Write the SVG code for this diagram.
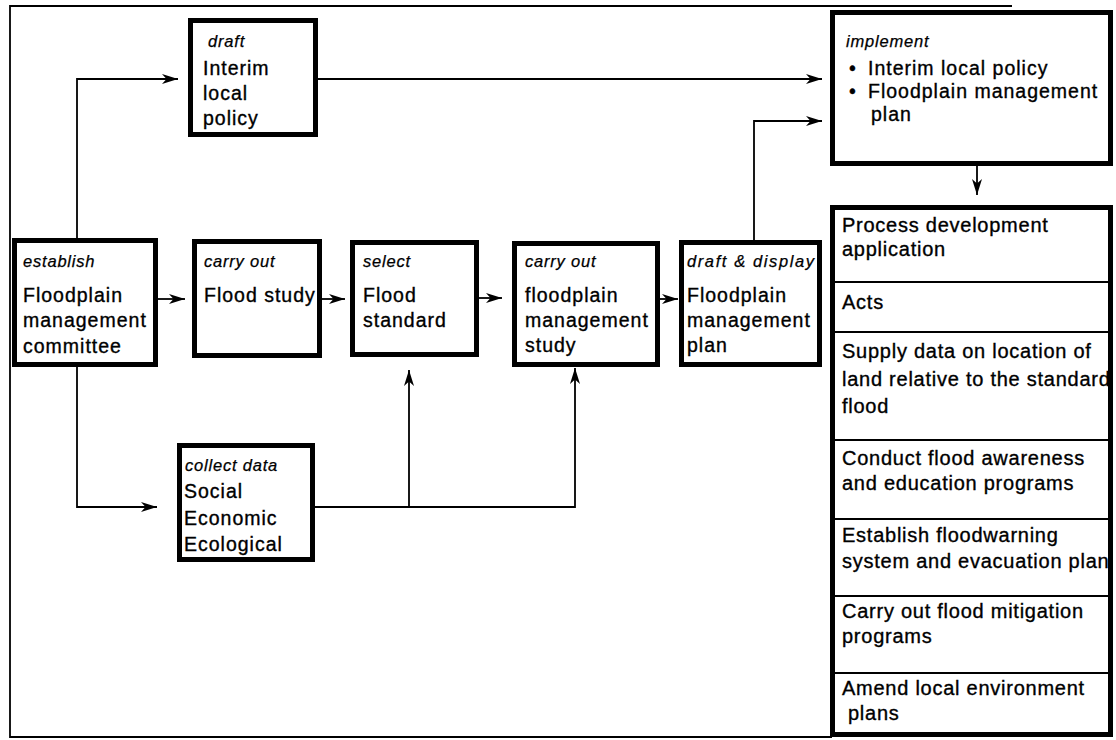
<svg xmlns="http://www.w3.org/2000/svg" width="1116" height="740" viewBox="0 0 1116 740">
  <defs>
    <marker id="arrow" markerUnits="userSpaceOnUse" markerWidth="18" markerHeight="12" refX="16" refY="6" orient="auto">
      <path d="M0,1 L16,6 L0,11 L4.5,6 z" fill="#000"/>
    </marker>
    <style>
      .frame { fill: none; stroke: #000; stroke-width: 1.8; }
      .box { fill: #fff; stroke: #000; stroke-width: 5; }
      .div { stroke: #000; stroke-width: 1.8; }
      .conn { fill: none; stroke: #000; stroke-width: 1.8; }
      .conn.arr { marker-end: url(#arrow); }
      text { font-family: "Liberation Sans", Arial, sans-serif; fill: #000; stroke: #000; stroke-width: 0.35px; }
      .lbl { font-size: 16.5px; font-style: italic; letter-spacing: 0.8px; stroke-width: 0.25px; }
      .txt { font-size: 19.5px; letter-spacing: 1px; }
      .row { font-size: 20px; letter-spacing: 0.75px; }
    </style>
  </defs>

  <rect width="1116" height="740" fill="#fff"/>

  <!-- outer frame -->
  <path class="frame" d="M1012,6 H10 V737 H832"/>

  <!-- connectors -->
  <g id="connectors">
    <path class="conn arr" d="M77,240 V79 H178"/>
    <path class="conn arr" d="M318,79 H822"/>
    <path class="conn arr" d="M158,299 H185"/>
    <path class="conn arr" d="M322,299 H345"/>
    <path class="conn arr" d="M479,298 H502"/>
    <path class="conn arr" d="M660,299 H678"/>
    <path class="conn arr" d="M754,240 V121 H822"/>
    <path class="conn arr" d="M77,367 V507 H157"/>
    <path class="conn arr" d="M315,507 H575 V368"/>
    <path class="conn arr" d="M409,507 V370"/>
    <path class="conn arr" d="M977,166 V195"/>
  </g>

  <g id="draft">
    <rect class="box" x="190.5" y="20.5" width="125" height="114"/>
    <text class="lbl" x="208" y="47">draft</text>
    <text class="txt" x="203" y="75">Interim</text>
    <text class="txt" x="203" y="100">local</text>
    <text class="txt" x="203" y="125">policy</text>
  </g>

  <g id="establish">
    <rect class="box" x="14.5" y="240.5" width="141" height="124"/>
    <text class="lbl" x="23" y="267">establish</text>
    <text class="txt" x="23" y="302">Floodplain</text>
    <text class="txt" x="23" y="327">management</text>
    <text class="txt" x="23" y="353">committee</text>
  </g>

  <g id="flood-study">
    <rect class="box" x="194.5" y="241.5" width="125" height="114"/>
    <text class="lbl" x="204" y="267">carry out</text>
    <text class="txt" x="204" y="302">Flood study</text>
  </g>

  <g id="select">
    <rect class="box" x="352.5" y="242.5" width="124" height="112"/>
    <text class="lbl" x="363" y="267">select</text>
    <text class="txt" x="363" y="302">Flood</text>
    <text class="txt" x="363" y="327">standard</text>
  </g>

  <g id="fm-study">
    <rect class="box" x="514.5" y="243.5" width="143" height="121"/>
    <text class="lbl" x="525" y="267">carry out</text>
    <text class="txt" x="525" y="302">floodplain</text>
    <text class="txt" x="525" y="327">management</text>
    <text class="txt" x="525" y="352">study</text>
  </g>

  <g id="fm-plan">
    <rect class="box" x="681.5" y="242.5" width="138" height="122"/>
    <text class="lbl" x="687" y="267" style="letter-spacing:1.6px">draft &amp; display</text>
    <text class="txt" x="687" y="302">Floodplain</text>
    <text class="txt" x="687" y="327">management</text>
    <text class="txt" x="687" y="352">plan</text>
  </g>

  <g id="collect-data">
    <rect class="box" x="179.5" y="445.5" width="133" height="114"/>
    <text class="lbl" x="185" y="471">collect data</text>
    <text class="txt" x="184" y="498">Social</text>
    <text class="txt" x="184" y="525">Economic</text>
    <text class="txt" x="184" y="551">Ecological</text>
  </g>

  <g id="implement">
    <rect class="box" x="832.5" y="12.5" width="278" height="151"/>
    <text class="lbl" x="846" y="47">implement</text>
    <text class="txt" x="849" y="75">•</text>
    <text class="txt" x="868" y="75">Interim local policy</text>
    <text class="txt" x="849" y="98">•</text>
    <text class="txt" x="868" y="98">Floodplain management</text>
    <text class="txt" x="871" y="121">plan</text>
  </g>

  <g id="actions">
    <rect class="box" x="832.5" y="207.5" width="278" height="527"/>
    <line class="div" x1="835" y1="282" x2="1111" y2="282"/>
    <line class="div" x1="835" y1="332" x2="1111" y2="332"/>
    <line class="div" x1="835" y1="440" x2="1111" y2="440"/>
    <line class="div" x1="835" y1="519" x2="1111" y2="519"/>
    <line class="div" x1="835" y1="596" x2="1111" y2="596"/>
    <line class="div" x1="835" y1="673" x2="1111" y2="673"/>
    <text class="row" x="842" y="232">Process development</text>
    <text class="row" x="842" y="256">application</text>
    <text class="row" x="842" y="309">Acts</text>
    <text class="row" x="842" y="358">Supply data on location of</text>
    <text class="row" x="842" y="386">land relative to the standard</text>
    <text class="row" x="842" y="413">flood</text>
    <text class="row" x="842" y="465">Conduct flood awareness</text>
    <text class="row" x="842" y="490">and education programs</text>
    <text class="row" x="842" y="542">Establish floodwarning</text>
    <text class="row" x="842" y="568">system and evacuation plan</text>
    <text class="row" x="842" y="618">Carry out flood mitigation</text>
    <text class="row" x="842" y="643">programs</text>
    <text class="row" x="842" y="695">Amend local environment</text>
    <text class="row" x="848" y="720">plans</text>
  </g>
</svg>
